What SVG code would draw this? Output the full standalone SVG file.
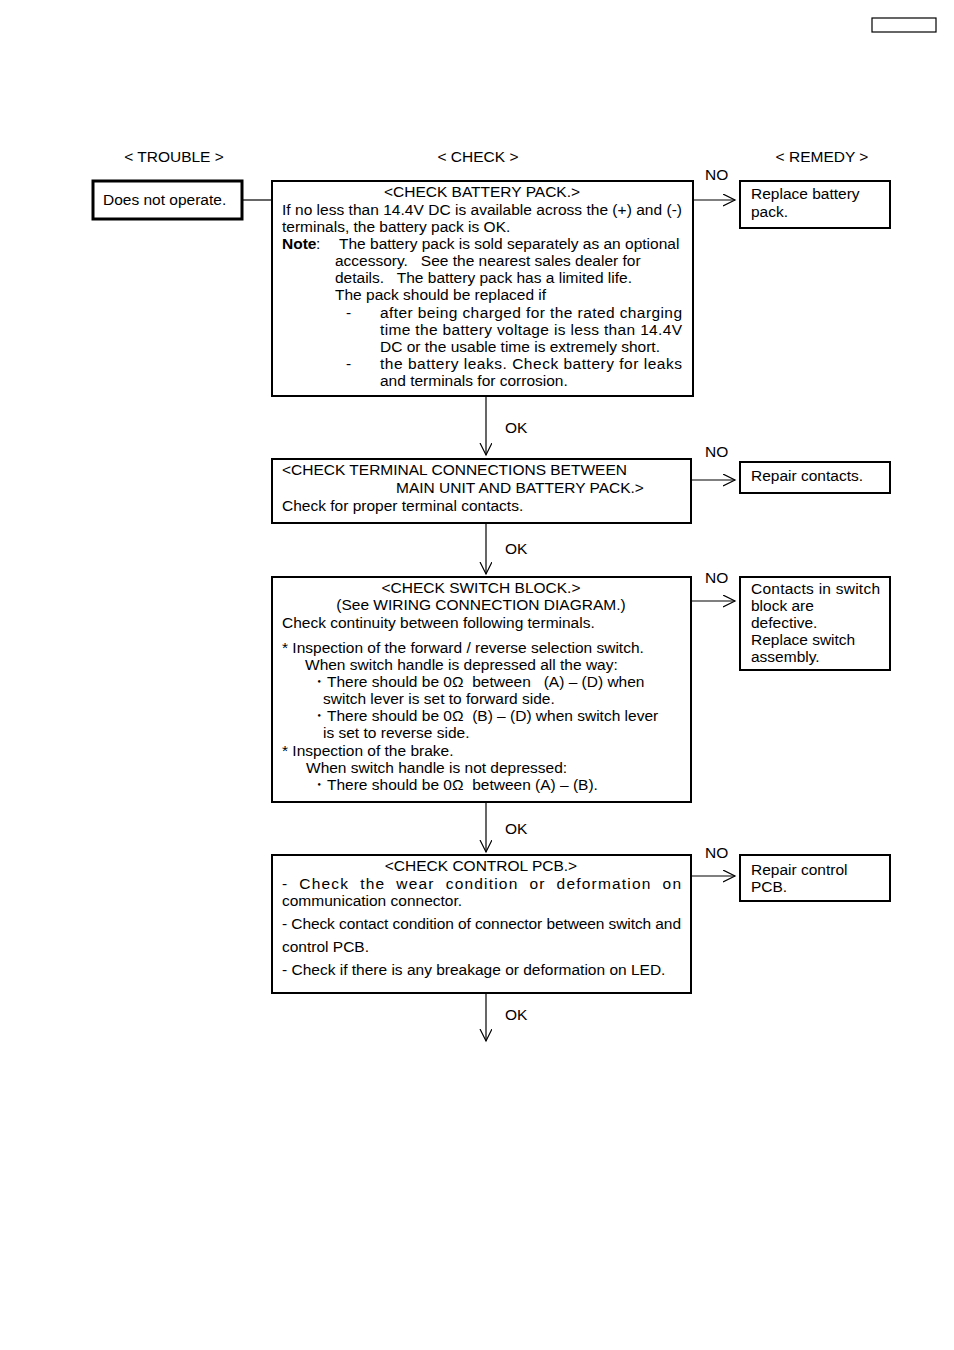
<svg xmlns="http://www.w3.org/2000/svg" width="954" height="1350" viewBox="0 0 954 1350">
<style>
text{font-family:"Liberation Sans",Arial,sans-serif;font-size:15.5px;fill:#000;white-space:pre}
.box{fill:#fff;stroke:#000;stroke-width:2}
.thick{fill:#fff;stroke:#000;stroke-width:3}
.ln{fill:none;stroke:#000;stroke-width:1.2}
.c{text-anchor:middle}
</style>
<defs>
<marker id="ah" markerWidth="14" markerHeight="14" refX="12" refY="6" orient="auto" markerUnits="userSpaceOnUse">
<path d="M0,0 L12,6 L0,12" fill="none" stroke="#000" stroke-width="1.2"/>
</marker>
</defs>
<rect width="954" height="1350" fill="#fff"/>
<rect x="872" y="18" width="64" height="14" fill="none" stroke="#000" stroke-width="1.2"/>
<g id="headers">
<text class="c" x="174" y="162">&lt; TROUBLE &gt;</text>
<text class="c" x="478" y="162">&lt; CHECK &gt;</text>
<text class="c" x="822" y="162">&lt; REMEDY &gt;</text>
</g>
<g id="connectors">
<line class="ln" x1="242" y1="200" x2="272" y2="200"/>
<line class="ln" x1="693" y1="200" x2="735" y2="200" marker-end="url(#ah)"/>
<line class="ln" x1="486" y1="396" x2="486" y2="455" marker-end="url(#ah)"/>
<line class="ln" x1="691" y1="480" x2="735" y2="480" marker-end="url(#ah)"/>
<line class="ln" x1="486" y1="523" x2="486" y2="574" marker-end="url(#ah)"/>
<line class="ln" x1="691" y1="601" x2="735" y2="601" marker-end="url(#ah)"/>
<line class="ln" x1="486" y1="802" x2="486" y2="852" marker-end="url(#ah)"/>
<line class="ln" x1="691" y1="876" x2="735" y2="876" marker-end="url(#ah)"/>
<line class="ln" x1="486" y1="993" x2="486" y2="1041" marker-end="url(#ah)"/>
<text x="705" y="180">NO</text>
<text x="705" y="457">NO</text>
<text x="705" y="583">NO</text>
<text x="705" y="858">NO</text>
<text x="505" y="433">OK</text>
<text x="505" y="554">OK</text>
<text x="505" y="834">OK</text>
<text x="505" y="1020">OK</text>
</g>
<g id="trouble">
<rect class="thick" x="93" y="181" width="149" height="38"/>
<text x="103" y="205">Does not operate.</text>
</g>
<g id="check-battery">
<rect class="box" x="272" y="181" width="421" height="215"/>
<text class="c" x="482" y="197">&lt;CHECK BATTERY PACK.&gt;</text>
<text x="282" y="215" textLength="400" lengthAdjust="spacing">If no less than 14.4V DC is available across the (+) and (-)</text>
<text x="282" y="232">terminals, the battery pack is OK.</text>
<text x="282" y="249" font-weight="bold">Note</text>
<text x="316" y="249">:</text>
<text x="339" y="249">The battery pack is sold separately as an optional</text>
<text x="335" y="266">accessory.   See the nearest sales dealer for</text>
<text x="335" y="283">details.   The battery pack has a limited life.</text>
<text x="335" y="300">The pack should be replaced if</text>
<text x="346" y="318">-</text>
<text x="380" y="318" textLength="302" lengthAdjust="spacing">after being charged for the rated charging</text>
<text x="380" y="335" textLength="302" lengthAdjust="spacing">time the battery voltage is less than 14.4V</text>
<text x="380" y="352">DC or the usable time is extremely short.</text>
<text x="346" y="369">-</text>
<text x="380" y="369" textLength="302" lengthAdjust="spacing">the battery leaks. Check battery for leaks</text>
<text x="380" y="386">and terminals for corrosion.</text>
</g>
<g id="remedy-battery">
<rect class="box" x="740" y="181" width="150" height="47"/>
<text x="751" y="199">Replace battery</text>
<text x="751" y="217">pack.</text>
</g>
<g id="check-terminal">
<rect class="box" x="272" y="459" width="419" height="64"/>
<text x="282" y="475">&lt;CHECK TERMINAL CONNECTIONS BETWEEN</text>
<text x="396" y="493">MAIN UNIT AND BATTERY PACK.&gt;</text>
<text x="282" y="511">Check for proper terminal contacts.</text>
</g>
<g id="remedy-terminal">
<rect class="box" x="740" y="462" width="150" height="31"/>
<text x="751" y="481">Repair contacts.</text>
</g>
<g id="check-switch">
<rect class="box" x="272" y="577" width="419" height="225"/>
<text class="c" x="481" y="593">&lt;CHECK SWITCH BLOCK.&gt;</text>
<text class="c" x="481" y="610">(See WIRING CONNECTION DIAGRAM.)</text>
<text x="282" y="628">Check continuity between following terminals.</text>
<text x="282" y="653">* Inspection of the forward / reverse selection switch.</text>
<text x="305" y="670">When switch handle is depressed all the way:</text>
<text x="311" y="687">・There should be 0Ω  between   (A) – (D) when</text>
<text x="323" y="704">switch lever is set to forward side.</text>
<text x="311" y="721">・There should be 0Ω  (B) – (D) when switch lever</text>
<text x="323" y="738">is set to reverse side.</text>
<text x="282" y="756">* Inspection of the brake.</text>
<text x="306" y="773">When switch handle is not depressed:</text>
<text x="311" y="790">・There should be 0Ω  between (A) – (B).</text>
</g>
<g id="remedy-switch">
<rect class="box" x="740" y="577" width="150" height="93"/>
<text x="751" y="594" textLength="129" lengthAdjust="spacing">Contacts in switch</text>
<text x="751" y="611">block are</text>
<text x="751" y="628">defective.</text>
<text x="751" y="645">Replace switch</text>
<text x="751" y="662">assembly.</text>
</g>
<g id="check-pcb">
<rect class="box" x="272" y="855" width="419" height="138"/>
<text class="c" x="481" y="871">&lt;CHECK CONTROL PCB.&gt;</text>
<text x="282" y="889" textLength="399" lengthAdjust="spacing">-  Check  the  wear  condition  or  deformation  on</text>
<text x="282" y="906">communication connector.</text>
<text x="282" y="929" textLength="399" lengthAdjust="spacing">- Check contact condition of connector between switch and</text>
<text x="282" y="952">control PCB.</text>
<text x="282" y="975">- Check if there is any breakage or deformation on LED.</text>
</g>
<g id="remedy-pcb">
<rect class="box" x="740" y="855" width="150" height="46"/>
<text x="751" y="875">Repair control</text>
<text x="751" y="892">PCB.</text>
</g>
</svg>
